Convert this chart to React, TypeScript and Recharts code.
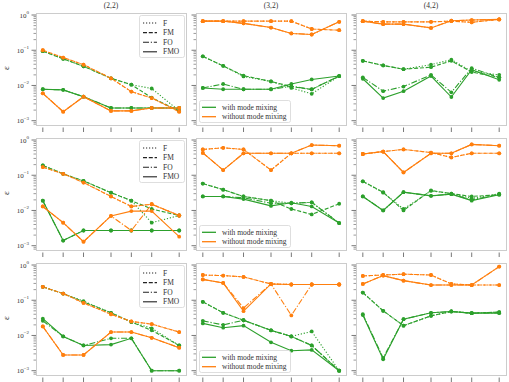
import React from "react";
import { LineChart, Line, XAxis, YAxis } from "recharts";

const GREEN = "#2ca02c";
const ORANGE = "#ff7f0e";

// x positions of the seven runs (uneven spacing, ticks carry no labels)
const X = [0, 1, 2, 3.35, 4.35, 5.35, 6.7];
const COLUMN_TITLES = ["(2,2)", "(3,2)", "(4,2)"];
const VARIANTS = ["F", "FM", "FO", "FMO"];
const MIXING_LABELS = ["with mode mixing", "without mode mixing"];
const Y_MAJOR = [0.001, 0.01, 0.1, 1];

// every block lists F, FM, FO, FMO (error epsilon)
const r1c1Green = [
  [0.094, 0.057, 0.035, 0.016, 0.0105, 0.0082, 0.0019],
  [0.094, 0.057, 0.035, 0.016, 0.0105, 0.0045, 0.0019],
  [0.0078, 0.0075, 0.0048, 0.0023, 0.0023, 0.0023, 0.0023],
  [0.0078, 0.0075, 0.0048, 0.0023, 0.0023, 0.0023, 0.0023],
];
const r1c1Orange = [
  [0.1, 0.062, 0.039, 0.016, 0.0067, 0.0044, 0.0018],
  [0.1, 0.062, 0.039, 0.016, 0.0067, 0.0044, 0.0018],
  [0.006, 0.0018, 0.0048, 0.0019, 0.0019, 0.0023, 0.0023],
  [0.006, 0.0018, 0.0048, 0.0019, 0.0019, 0.0023, 0.0023],
];
const r1c2Green = [
  [0.067, 0.036, 0.018, 0.013, 0.0085, 0.0058, 0.0185],
  [0.067, 0.036, 0.019, 0.013, 0.0093, 0.0077, 0.0185],
  [0.0085, 0.011, 0.0078, 0.0078, 0.0095, 0.0078, 0.0185],
  [0.0085, 0.0078, 0.0078, 0.0078, 0.011, 0.0148, 0.0185],
];
const r1c2Orange = [
  [0.67, 0.67, 0.67, 0.67, 0.67, 0.4, 0.37],
  [0.67, 0.67, 0.67, 0.67, 0.67, 0.4, 0.37],
  [0.67, 0.67, 0.58, 0.44, 0.3, 0.28, 0.64],
  [0.67, 0.67, 0.58, 0.44, 0.3, 0.28, 0.64],
];
const r1c3Green = [
  [0.05, 0.037, 0.029, 0.039, 0.054, 0.025, 0.02],
  [0.05, 0.037, 0.029, 0.033, 0.05, 0.024, 0.017],
  [0.017, 0.0069, 0.0093, 0.02, 0.0064, 0.031, 0.017],
  [0.0155, 0.0044, 0.0069, 0.0185, 0.0047, 0.028, 0.0145],
];
const r1c3Orange = [
  [0.67, 0.64, 0.64, 0.64, 0.67, 0.62, 0.75],
  [0.67, 0.64, 0.64, 0.64, 0.67, 0.62, 0.75],
  [0.67, 0.55, 0.55, 0.43, 0.69, 0.72, 0.75],
  [0.67, 0.55, 0.55, 0.43, 0.69, 0.72, 0.75],
];
const r2c1Green = [
  [0.19, 0.11, 0.069, 0.032, 0.019, 0.0045, 0.0072],
  [0.19, 0.11, 0.069, 0.032, 0.019, 0.011, 0.0072],
  [0.019, 0.0014, 0.0027, 0.0027, 0.0027, 0.0027, 0.0027],
  [0.019, 0.0014, 0.0027, 0.0027, 0.0027, 0.0027, 0.0027],
];
const r2c1Orange = [
  [0.17, 0.11, 0.062, 0.025, 0.013, 0.015, 0.0072],
  [0.17, 0.11, 0.062, 0.025, 0.013, 0.015, 0.0072],
  [0.013, 0.0045, 0.0013, 0.007, 0.0027, 0.015, 0.0072],
  [0.013, 0.0045, 0.0013, 0.007, 0.0096, 0.0096, 0.0018],
];
const r2c2Green = [
  [0.058, 0.039, 0.025, 0.019, 0.016, 0.017, 0.0044],
  [0.058, 0.039, 0.025, 0.019, 0.011, 0.0077, 0.0155],
  [0.025, 0.025, 0.023, 0.016, 0.016, 0.017, 0.0044],
  [0.025, 0.025, 0.021, 0.0135, 0.0166, 0.013, 0.0044],
];
const r2c2Orange = [
  [0.54, 0.6, 0.54, 0.14, 0.42, 0.42, 0.42],
  [0.54, 0.6, 0.54, 0.14, 0.42, 0.42, 0.42],
  [0.43, 0.14, 0.42, 0.42, 0.42, 0.72, 0.69],
  [0.43, 0.14, 0.42, 0.42, 0.42, 0.72, 0.69],
];
const r2c3Green = [
  [0.067, 0.032, 0.011, 0.036, 0.03, 0.022, 0.03],
  [0.067, 0.033, 0.01, 0.037, 0.03, 0.025, 0.028],
  [0.025, 0.01, 0.033, 0.026, 0.029, 0.02, 0.029],
  [0.025, 0.01, 0.033, 0.026, 0.029, 0.019, 0.028],
];
const r2c3Orange = [
  [0.4, 0.47, 0.54, 0.44, 0.32, 0.42, 0.42],
  [0.4, 0.47, 0.54, 0.44, 0.32, 0.42, 0.42],
  [0.4, 0.47, 0.12, 0.42, 0.42, 0.75, 0.69],
  [0.4, 0.47, 0.12, 0.42, 0.42, 0.75, 0.69],
];
const r3c1Green = [
  [0.24, 0.155, 0.094, 0.044, 0.024, 0.016, 0.0052],
  [0.24, 0.155, 0.09, 0.044, 0.024, 0.014, 0.0052],
  [0.026, 0.0094, 0.0052, 0.0083, 0.0083, 0.001, 0.001],
  [0.03, 0.0094, 0.0052, 0.0055, 0.0083, 0.001, 0.001],
];
const r3c1Orange = [
  [0.24, 0.155, 0.084, 0.04, 0.025, 0.021, 0.0125],
  [0.24, 0.155, 0.084, 0.04, 0.025, 0.021, 0.0125],
  [0.018, 0.0028, 0.0028, 0.0125, 0.0125, 0.0086, 0.0045],
  [0.018, 0.0028, 0.0028, 0.0125, 0.0125, 0.0086, 0.0045],
];
const r3c2Green = [
  [0.09, 0.044, 0.027, 0.014, 0.0094, 0.013, 0.001],
  [0.09, 0.044, 0.027, 0.014, 0.0094, 0.0052, 0.001],
  [0.026, 0.02, 0.027, 0.014, 0.0094, 0.0052, 0.001],
  [0.022, 0.0166, 0.019, 0.0064, 0.0037, 0.0039, 0.001],
];
const r3c2Orange = [
  [0.52, 0.5, 0.46, 0.29, 0.28, 0.28, 0.28],
  [0.52, 0.5, 0.46, 0.29, 0.28, 0.28, 0.28],
  [0.39, 0.31, 0.06, 0.29, 0.037, 0.28, 0.28],
  [0.39, 0.31, 0.049, 0.29, 0.28, 0.28, 0.28],
];
const r3c3Green = [
  [0.165, 0.05, 0.019, 0.036, 0.048, 0.043, 0.046],
  [0.165, 0.05, 0.019, 0.036, 0.048, 0.043, 0.046],
  [0.04, 0.0023, 0.029, 0.044, 0.048, 0.043, 0.044],
  [0.038, 0.0021, 0.029, 0.044, 0.048, 0.043, 0.043],
];
const r3c3Orange = [
  [0.49, 0.52, 0.55, 0.52, 0.29, 0.27, 0.27],
  [0.49, 0.52, 0.55, 0.52, 0.29, 0.27, 0.27],
  [0.29, 0.5, 0.36, 0.27, 0.27, 0.27, 0.9],
  [0.29, 0.5, 0.36, 0.27, 0.27, 0.27, 0.9],
];

const PANELS = [
  [[r1c1Green, r1c1Orange], [r1c2Green, r1c2Orange], [r1c3Green, r1c3Orange]],
  [[r2c1Green, r2c1Orange], [r2c2Green, r2c2Orange], [r2c3Green, r2c3Orange]],
  [[r3c1Green, r3c1Orange], [r3c2Green, r3c2Orange], [r3c3Green, r3c3Orange]],
];

const DASH: Record<string, string | undefined> = {
  F: "1.2 1.8",
  FM: "4 1.8",
  FO: "6 1.8 1.2 1.8",
  FMO: undefined,
};

const FRAME_LEFT = [36, 196, 356];
const FRAME_TOP = [13, 138, 263];
const FRAME_W = 150;
const FRAME_H = 112;
const PAD_TOP = 8; // room above the frame for the 10^0 label
const Y_DOMAIN = [0.000755, 1.14];
const X_DOMAIN = [-0.335, 7.035];
const FONT = "'Liberation Serif', 'DejaVu Serif', serif";
const TICK_COLOR = "#555";
const TEXT_COLOR = "#333";

// major + minor positions for the log axis
const Y_TICKS: number[] = [];
[0.0001, 0.001, 0.01, 0.1, 1].forEach((d) => {
  for (let m = 1; m < 10; m++) {
    const v = d * m;
    if (v >= Y_DOMAIN[0] && v <= Y_DOMAIN[1]) Y_TICKS.push(v);
  }
});

function YTick(props: any) {
  const { x, y, payload, showLabels } = props;
  const v = payload.value as number;
  const exp = Math.round(Math.log10(v));
  const major = Y_MAJOR.some((m) => Math.abs(m - v) / m < 1e-6);
  return (
    <g>
      <line
        x1={x - (major ? 4.5 : 2.5)}
        x2={x}
        y1={y}
        y2={y}
        stroke={TICK_COLOR}
        strokeWidth={major ? 0.8 : 0.6}
      />
      {major && showLabels && (
        <text x={x - 7} y={y + 2.5} textAnchor="end" fontSize={7} fill={TEXT_COLOR} fontFamily={FONT}>
          10
          <tspan dy={-3.5} fontSize={5}>
            {exp === 0 ? "0" : `\u2212${-exp}`}
          </tspan>
        </text>
      )}
    </g>
  );
}

function XTick(props: any) {
  const { x, y } = props;
  return <line x1={x} x2={x} y1={y + 2.5} y2={y + 7} stroke={TICK_COLOR} strokeWidth={0.8} />;
}

function VariantLegend({ left, top }: { left: number; top: number }) {
  return (
    <svg style={{ position: "absolute", left, top }} width={47} height={44}>
      <rect x={0.5} y={0.5} width={45} height={42} rx={2} fill="rgba(255,255,255,0.85)" stroke="#d5d5d5" strokeWidth={0.8} />
      {VARIANTS.map((v, i) => {
        const cy = 8 + i * 9.6;
        return (
          <g key={v}>
            <line x1={4} x2={18} y1={cy} y2={cy} stroke="#222" strokeWidth={1.1} strokeDasharray={DASH[v]} />
            <text x={24} y={cy + 2.5} fontSize={7.5} fill={TEXT_COLOR} fontFamily={FONT}>
              {v}
            </text>
          </g>
        );
      })}
    </svg>
  );
}

function MixingLegend({ left, top }: { left: number; top: number }) {
  const colors = [GREEN, ORANGE];
  return (
    <svg style={{ position: "absolute", left, top }} width={93} height={24}>
      <rect x={0.5} y={0.5} width={91} height={22} rx={2} fill="rgba(255,255,255,0.85)" stroke="#d5d5d5" strokeWidth={0.8} />
      {MIXING_LABELS.map((label, i) => {
        const cy = 7.3 + i * 9.4;
        return (
          <g key={label}>
            <line x1={3} x2={17} y1={cy} y2={cy} stroke={colors[i]} strokeWidth={1.3} />
            <text x={23} y={cy + 2.5} fontSize={7.5} fill={TEXT_COLOR} fontFamily={FONT}>
              {label}
            </text>
          </g>
        );
      })}
    </svg>
  );
}

function Panel({ row, col }: { row: number; col: number }) {
  const [green, orange] = PANELS[row][col];
  const data = X.map((x, i) => {
    const d: Record<string, number> = { x };
    VARIANTS.forEach((v, k) => {
      d["g" + v] = green[k][i];
      d["o" + v] = orange[k][i];
    });
    return d;
  });
  const yW = col === 0 ? 36 : 10;
  const series = [
    ...VARIANTS.map((v) => ({ key: "g" + v, color: GREEN, dash: DASH[v] })),
    ...VARIANTS.map((v) => ({ key: "o" + v, color: ORANGE, dash: DASH[v] })),
  ];
  return (
    <>
      <div
        style={{
          position: "absolute",
          left: FRAME_LEFT[col],
          top: FRAME_TOP[row],
          width: FRAME_W + 1,
          height: FRAME_H + 1,
          border: "1px solid #cccccc",
          boxSizing: "border-box",
        }}
      />
      <div style={{ position: "absolute", left: FRAME_LEFT[col] - yW, top: FRAME_TOP[row] - PAD_TOP }}>
        <LineChart
          width={FRAME_W + yW}
          height={FRAME_H + 8 + PAD_TOP}
          data={data}
          margin={{ top: PAD_TOP, right: 0, bottom: 0, left: 0 }}
        >
          <XAxis
            dataKey="x"
            type="number"
            domain={X_DOMAIN}
            ticks={X}
            interval={0}
            allowDataOverflow
            axisLine={false}
            tickLine={false}
            tickSize={0}
            tickMargin={0}
            height={8}
            tick={(p: any) => <XTick {...p} />}
          />
          <YAxis
            type="number"
            scale="log"
            domain={Y_DOMAIN}
            ticks={Y_TICKS}
            interval={0}
            allowDataOverflow
            axisLine={false}
            tickLine={false}
            tickSize={0}
            tickMargin={0}
            width={yW}
            tick={(p: any) => <YTick {...p} showLabels={col === 0} />}
          />
          {series.map((s) => (
            <Line
              key={s.key}
              dataKey={s.key}
              stroke={s.color}
              strokeWidth={1.1}
              strokeDasharray={s.dash}
              dot={{ r: 1.9, fill: s.color, stroke: "none" }}
              isAnimationActive={false}
            />
          ))}
        </LineChart>
      </div>
      {col === 0 && <VariantLegend left={139} top={FRAME_TOP[row] + 2} />}
      {col === 1 && <MixingLegend left={199} top={FRAME_TOP[row] + 87} />}
      {col === 0 && (
        <div
          style={{
            position: "absolute",
            left: 4,
            top: FRAME_TOP[row] + FRAME_H / 2 - 6,
            fontSize: 9,
            color: TEXT_COLOR,
            fontFamily: FONT,
            transform: "rotate(-90deg)",
          }}
        >
          ε
        </div>
      )}
    </>
  );
}

export default function App() {
  return (
    <div
      style={{
        position: "absolute",
        left: 0,
        top: 0,
        width: 509,
        height: 382,
        background: "#fff",
        fontFamily: FONT,
        overflow: "hidden",
      }}
    >
      {COLUMN_TITLES.map((t, c) => (
        <div
          key={t}
          style={{
            position: "absolute",
            left: FRAME_LEFT[c],
            width: FRAME_W,
            top: 1,
            textAlign: "center",
            fontSize: 7.5,
            color: TEXT_COLOR,
          }}
        >
          {t}
        </div>
      ))}
      {[0, 1, 2].map((r) => [0, 1, 2].map((c) => <Panel key={`${r}-${c}`} row={r} col={c} />))}
    </div>
  );
}
